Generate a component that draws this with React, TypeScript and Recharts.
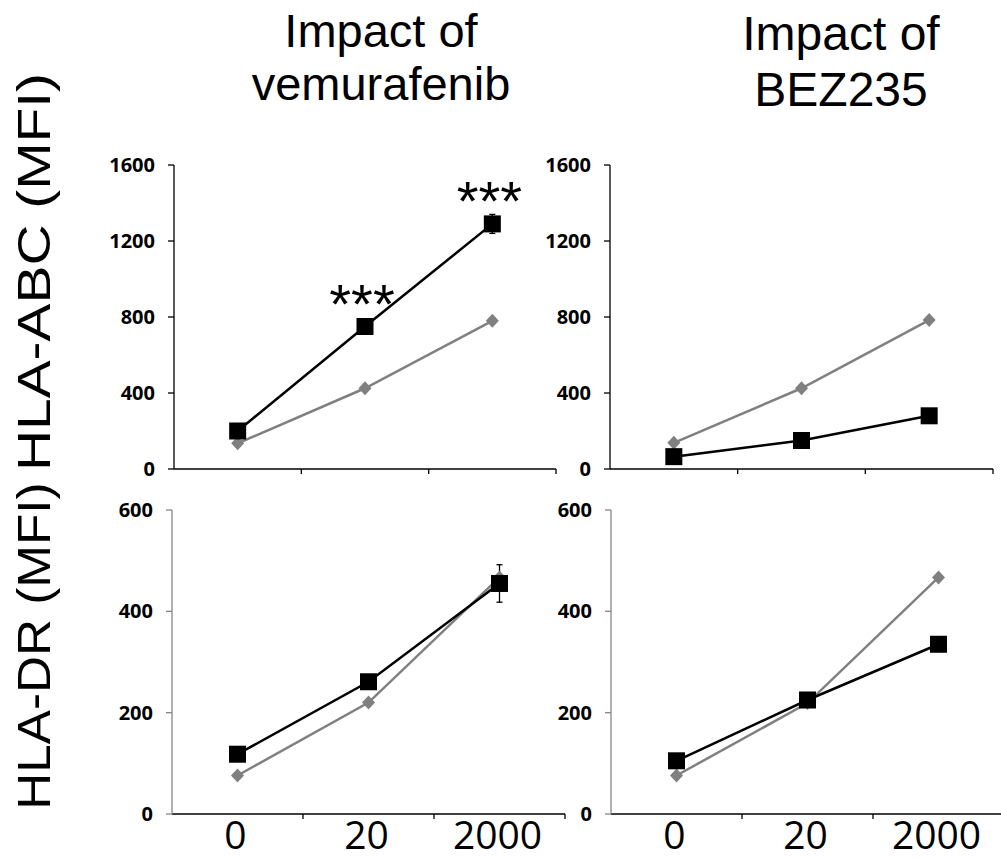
import React from 'react';
import { LineChart, Line, XAxis, YAxis, ErrorBar, LabelList } from 'recharts';

const doses = ['0', '20', '2000'];

// HLA-ABC, vemurafenib
const abcVemBlack = [200, 750, 1290];
const abcVemBlackErr = [14, 22, 50];
const abcVemGray = [135, 425, 780];
const abcVemSig = ['', '***', '***'];

// HLA-ABC, BEZ235
const abcBezBlack = [65, 150, 280];
const abcBezBlackErr = [6, 12, 18];
const abcBezGray = [138, 425, 784];

// HLA-DR, vemurafenib
const drVemBlack = [118, 261, 455];
const drVemBlackErr = [5, 9, 37];
const drVemGray = [76, 220, 467];

// HLA-DR, BEZ235
const drBezBlack = [105, 225, 335];
const drBezBlackErr = [4, 8, 10];
const drBezGray = [76, 219, 467];

const abcTicks = [0, 400, 800, 1200, 1600];
const drTicks = [0, 200, 400, 600];

type Row = { dose: string; black: number; blackErr: number; gray: number; sig: string };

const buildRows = (black: number[], err: number[], gray: number[], sig?: string[]): Row[] =>
  doses.map((dose, i) => ({ dose, black: black[i], blackErr: err[i], gray: gray[i], sig: sig ? sig[i] : '' }));

const SANS = '"Liberation Sans", Arial, sans-serif';
const TICK_FONT = '"Open Sans", "Noto Sans", sans-serif';

const renderSquare = (p: any) => {
  if (p.cx == null || p.cy == null) return <g key={`sq-${p.index}`} />;
  return <rect key={`sq-${p.index}`} x={p.cx - 8.5} y={p.cy - 8.5} width={17} height={17} fill="#000" />;
};

const renderDiamond = (p: any) => {
  if (p.cx == null || p.cy == null) return <g key={`dm-${p.index}`} />;
  const { cx, cy } = p;
  return (
    <polygon
      key={`dm-${p.index}`}
      points={`${cx},${cy - 7} ${cx + 6.5},${cy} ${cx},${cy + 7} ${cx - 6.5},${cy}`}
      fill="#808080"
    />
  );
};

// significance stars above the black series
const renderSig = (p: any) => {
  if (!p.value) return null;
  return (
    <text key={`sig-${p.index}`} x={p.x - 3} y={p.y - 4} textAnchor="middle" fontSize={56} fontFamily={SANS} fill="#000">
      {p.value}
    </text>
  );
};

type PanelProps = {
  data: Row[];
  left: number;
  top: number;
  width: number;
  height: number;
  plot: { x0: number; x1: number; y0: number; y1: number };
  yMax: number;
  yTicks: number[];
  yAxisColor: string;
  showXLabels: boolean;
};

const Panel: React.FC<PanelProps> = ({ data, left, top, width, height, plot, yMax, yTicks, yAxisColor, showXLabels }) => {
  const band = (plot.x1 - plot.x0) / doses.length;
  const xTick = (p: any) => {
    const { x, y, payload, index } = p;
    return (
      <g key={`xt-${index}`}>
        <line x1={x + band / 2} x2={x + band / 2} y1={y} y2={y + 5} stroke="#000" strokeWidth={1.3} />
        {showXLabels && (
          <text x={x - 2} y={y + 35} textAnchor="middle" fontSize={39} fontFamily={TICK_FONT} fill="#000">
            {payload.value}
          </text>
        )}
      </g>
    );
  };

  return (
    <div style={{ position: 'absolute', left, top, width, height }}>
      <LineChart
        width={width}
        height={height}
        data={data}
        margin={{ top: plot.y0 - top, right: left + width - plot.x1, bottom: 0, left: 0 }}
      >
        <XAxis
          dataKey="dose"
          scale="band"
          interval={0}
          height={top + height - plot.y1}
          tickLine={false}
          tickSize={0}
          tickMargin={0}
          axisLine={{ stroke: '#000', strokeWidth: 1.3 }}
          tick={xTick}
        />
        <YAxis
          type="number"
          domain={[0, yMax]}
          ticks={yTicks}
          interval={0}
          width={plot.x0 - left}
          tickSize={6}
          tickMargin={13}
          axisLine={{ stroke: yAxisColor, strokeWidth: 1.3 }}
          tickLine={{ stroke: yAxisColor, strokeWidth: 1.3 }}
          tick={{ fill: '#000', fontSize: 20, fontWeight: 700, fontFamily: TICK_FONT }}
        />
        <Line
          dataKey="gray"
          stroke="#808080"
          strokeWidth={2.5}
          dot={renderDiamond}
          activeDot={false}
          isAnimationActive={false}
        />
        <Line
          dataKey="black"
          stroke="#000"
          strokeWidth={2.5}
          dot={renderSquare}
          activeDot={false}
          isAnimationActive={false}
        >
          <ErrorBar dataKey="blackErr" direction="y" width={3} strokeWidth={1.3} stroke="#000" />
          <LabelList dataKey="sig" content={renderSig} />
        </Line>
      </LineChart>
    </div>
  );
};

const App: React.FC = () => {
  const abcVem = buildRows(abcVemBlack, abcVemBlackErr, abcVemGray, abcVemSig);
  const abcBez = buildRows(abcBezBlack, abcBezBlackErr, abcBezGray);
  const drVem = buildRows(drVemBlack, drVemBlackErr, drVemGray);
  const drBez = buildRows(drBezBlack, drBezBlackErr, drBezGray);

  return (
    <div style={{ position: 'absolute', left: 0, top: 0, width: 1001, height: 861, overflow: 'hidden', background: '#fff' }}>
      <Panel
        data={abcVem}
        left={95}
        top={140}
        width={470}
        height={345}
        plot={{ x0: 174, x1: 556, y0: 165, y1: 469 }}
        yMax={1600}
        yTicks={abcTicks}
        yAxisColor="#000"
        showXLabels={false}
      />
      <Panel
        data={abcBez}
        left={540}
        top={140}
        width={461}
        height={345}
        plot={{ x0: 610, x1: 993, y0: 165, y1: 469 }}
        yMax={1600}
        yTicks={abcTicks}
        yAxisColor="#000"
        showXLabels={false}
      />
      <Panel
        data={drVem}
        left={95}
        top={490}
        width={475}
        height={371}
        plot={{ x0: 172, x1: 565, y0: 510, y1: 814 }}
        yMax={600}
        yTicks={drTicks}
        yAxisColor="#868686"
        showXLabels
      />
      <Panel
        data={drBez}
        left={540}
        top={490}
        width={470}
        height={371}
        plot={{ x0: 611, x1: 1004, y0: 510, y1: 814 }}
        yMax={600}
        yTicks={drTicks}
        yAxisColor="#868686"
        showXLabels
      />

      {/* titles and row labels */}
      <svg width={1001} height={861} style={{ position: 'absolute', left: 0, top: 0, pointerEvents: 'none' }}>
        <g fontFamily={SANS} fill="#000" textAnchor="middle">
          <text x={381} y={47} fontSize={47}>Impact of</text>
          <text x={381} y={100} fontSize={47}>vemurafenib</text>
          <text x={841} y={50} fontSize={48}>Impact of</text>
          <text x={841} y={106} fontSize={48}>BEZ235</text>
          <text transform="translate(50,272) rotate(-90) scale(1.21,1)" fontSize={47}>HLA-ABC (MFI)</text>
          <text transform="translate(50,646) rotate(-90) scale(1.09,1)" fontSize={47}>HLA-DR (MFI)</text>
        </g>
      </svg>
    </div>
  );
};

export default App;
